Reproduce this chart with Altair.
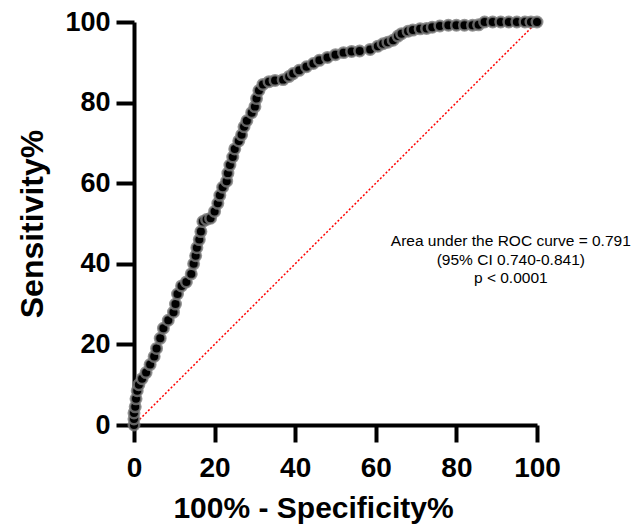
import altair as alt
import pandas as pd

fpr = [0, 0, 0, 0.3, 0.5, 0.8, 1.2, 2, 3, 4, 5, 5.6, 6.5, 7.3, 8.5, 9.8, 10.3, 10.8, 11.8, 13,
       14.2, 14.8, 15.3, 15.6, 16.2, 16.6, 17.1, 18, 19, 20, 20.8, 21.3, 22, 23, 23.3, 23.8, 24.5,
       25, 26, 26.7, 27.3, 28, 29.2, 30, 30.4, 31, 32, 33.5, 35, 37, 38.5, 39.5, 41, 42.8, 44.5,
       46, 48, 50, 52, 54, 56, 58.6, 60.5, 61.8, 63, 64.3, 65.5, 66.4, 68, 69.2, 71, 72.6, 74,
       75.9, 78, 80, 82, 84, 85.5, 87, 89, 91, 93, 95, 97, 98.5, 100]
tpr = [0, 1.5, 3, 4.5, 6.5, 8.5, 10, 11.5, 13, 15, 17, 19, 21.5, 24, 26, 28, 30, 32.5, 34.5, 35.5,
       37.5, 40, 42, 44, 46, 48, 50.5, 51, 51.3, 53, 55, 57, 59, 60.5, 62.5, 64.5, 66.5,
       68.5, 70.5, 72, 74, 75.5, 77.5, 79, 81, 83, 84.5, 85.2, 85.5, 85.7, 86.5, 87.2, 88, 88.9, 89.7,
       90.5, 91.2, 91.9, 92.4, 92.7, 92.8, 93.2, 94, 94.6, 95, 95.5, 96.5, 97.1, 97.7, 98, 98.3, 98.4, 98.7,
       99, 99.2, 99.2, 99.2, 99.2, 99.3, 100, 100, 100, 100, 100, 100, 100, 100]

diag_x = [0, 100]
diag_y = [0, 100]

note_lines = ["Area under the ROC curve = 0.791", "(95% CI 0.740-0.841)", "p < 0.0001"]
note_x = [93.5]
note_y = [44.4]

tick_vals = [0, 20, 40, 60, 80, 100]

roc = pd.DataFrame({"x": fpr, "y": tpr, "i": list(range(len(fpr)))})
diag = pd.DataFrame({"x": diag_x, "y": diag_y})
note = pd.DataFrame({"x": note_x, "y": note_y, "t": [note_lines]})

FONT = "Liberation Sans"

xscale = alt.Scale(domain=[0, 100], nice=False, zero=False)
yscale = alt.Scale(domain=[0, 100], nice=False, zero=False)

xaxis = alt.Axis(values=tick_vals, grid=False, domainColor="black", domainWidth=4,
                 tickColor="black", tickWidth=4, tickSize=17, labelFont=FONT,
                 labelFontSize=28, labelFontWeight="bold", labelColor="black",
                 labelPadding=12, labelFlush=False, title="100% - Specificity%", titleFont=FONT,
                 titleFontSize=30, titleFontWeight="bold", titleColor="black",
                 titleX=179, titleY=92, titleBaseline="alphabetic")
yaxis = alt.Axis(values=tick_vals, grid=False, domainColor="black", domainWidth=4,
                 tickColor="black", tickWidth=4, tickSize=18, labelFont=FONT,
                 labelFontSize=27, labelFontWeight="bold", labelColor="black",
                 labelPadding=6, labelFlush=False, title="Sensitivity%", titleFont=FONT,
                 titleFontSize=32, titleFontWeight="bold", titleColor="black",
                 titleX=-92, titleAngle=-90, titleBaseline="alphabetic")

diag_layer = alt.Chart(diag).mark_line(color="red", strokeWidth=1.5, strokeDash=[2, 2]).encode(
    x=alt.X("x:Q", scale=xscale, axis=xaxis),
    y=alt.Y("y:Q", scale=yscale, axis=yaxis),
)

line_layer = alt.Chart(roc).mark_line(color="black", strokeWidth=5).encode(
    x=alt.X("x:Q", scale=xscale),
    y=alt.Y("y:Q", scale=yscale),
    order="i:Q",
)

pt_layer = alt.Chart(roc).mark_circle(size=110, color="black", opacity=1,
                                      stroke="#7a7a7a", strokeWidth=2.5,
                                      strokeOpacity=0.8).encode(
    x=alt.X("x:Q", scale=xscale),
    y=alt.Y("y:Q", scale=yscale),
)

text_layer = alt.Chart(note).mark_text(font="Liberation Sans", fontSize=15.5, color="black",
                                       align="center", baseline="alphabetic",
                                       lineHeight=18.5).encode(
    x=alt.X("x:Q", scale=xscale),
    y=alt.Y("y:Q", scale=yscale),
    text="t",
)

chart = alt.layer(diag_layer, line_layer, pt_layer, text_layer).properties(
    width=403, height=403,
    background="white",
    autosize=alt.AutoSizeParams(type="none"),
    padding={"left": 126, "top": 14, "right": 95, "bottom": 99},
).configure_view(strokeWidth=0, stroke="transparent")

chart.save("out.html", embed_options={"renderer": "svg", "actions": False})
